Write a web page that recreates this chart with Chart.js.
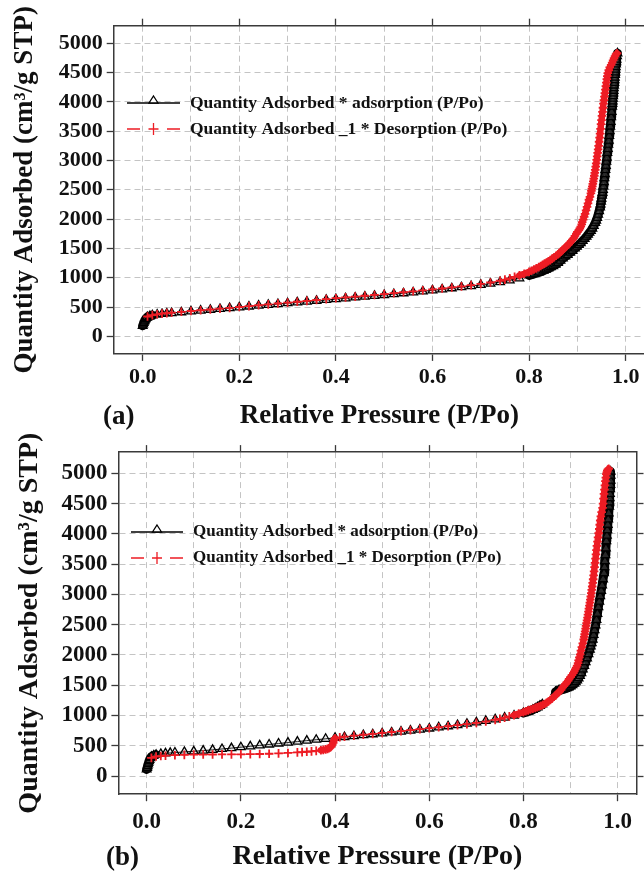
<!DOCTYPE html>
<html>
<head>
<meta charset="utf-8">
<title>Isotherms</title>
<script src="https://cdn.jsdelivr.net/npm/chart.js@4.4.0/dist/chart.umd.min.js"></script>
<style>
  html, body { margin: 0; padding: 0; background: #fff; width: 644px; height: 871px; overflow: hidden; }
  .panel { position: absolute; left: 0; }
</style>
</head>
<body>
<div class="panel" style="top:0"><canvas id="chartA" width="660" height="430"></canvas></div>
<div class="panel" style="top:430px"><canvas id="chartB" width="644" height="441"></canvas></div>
<script>
// labels and ticks
const seriesLabels = ['Quantity Adsorbed * adsorption (P/Po)', 'Quantity Adsorbed _1 * Desorption (P/Po)'];
const xTitle = 'Relative Pressure (P/Po)';
const yTitle = 'Quantity Adsorbed (cm³/g STP)';
const panelLabels = ['(a)', '(b)'];
const xTickValues = [0, 0.2, 0.4, 0.6, 0.8, 1.0];
const xTickLabels = ['0.0', '0.2', '0.4', '0.6', '0.8', '1.0'];
const xGridValues = [0, 0.1, 0.2, 0.3, 0.4, 0.5, 0.6, 0.7, 0.8, 0.9, 1.0];
const yTickValues = [0, 500, 1000, 1500, 2000, 2500, 3000, 3500, 4000, 4500, 5000];

// (a) [P/Po, quantity]
const adsorptionA = [
  [0,180],[0.001,205],[0.002,230],[0.003,250],[0.004,268],[0.005,285],[0.006,298],[0.008,315],[0.01,328],[0.015,345],
  [0.02,358],[0.03,372],[0.04,382],[0.05,390],[0.06,397],[0.08,411],[0.1,425],[0.12,439],[0.14,453],[0.16,467],
  [0.18,481],[0.2,495],[0.22,509],[0.24,523],[0.26,537],[0.28,551],[0.3,565],[0.32,579],[0.34,593],[0.36,607],
  [0.38,621],[0.4,635],[0.42,649],[0.44,663],[0.46,677],[0.48,691],[0.5,705],[0.52,720],[0.54,735],[0.56,751],
  [0.58,768],[0.6,785],[0.62,802],[0.64,820],[0.66,838],[0.68,857],[0.7,878],[0.72,900],[0.74,925],[0.76,953],
  [0.78,990],[0.8,1040],[0.81,1065],[0.82,1090],[0.83,1120],[0.835,1140],[0.84,1160],[0.845,1180],[0.85,1200],
  [0.855,1225],[0.86,1255],[0.865,1290],[0.87,1330],[0.875,1365],[0.88,1390],[0.885,1430],[0.89,1460],[0.895,1500],
  [0.899,1530],[0.903,1560],[0.907,1590],[0.911,1630],[0.915,1665],[0.919,1700],[0.922,1735],[0.925,1770],[0.928,1800],
  [0.931,1840],[0.934,1885],[0.937,1935],[0.939,1975],[0.941,2020],[0.943,2075],[0.945,2135],[0.947,2200],[0.948,2250],
  [0.949,2300],[0.95,2350],[0.951,2400],[0.952,2450],[0.953,2500],[0.954,2560],[0.955,2630],[0.956,2700],[0.957,2770],
  [0.958,2840],[0.959,2910],[0.96,2980],[0.961,3050],[0.962,3130],[0.963,3200],[0.964,3270],[0.965,3340],[0.966,3420],
  [0.967,3500],[0.968,3580],[0.969,3660],[0.97,3740],[0.971,3830],[0.972,3920],[0.9725,3965],[0.973,4010],[0.9735,4055],
  [0.974,4100],[0.9745,4145],[0.975,4190],[0.9755,4235],[0.976,4280],[0.9765,4325],[0.977,4370],[0.9775,4415],
  [0.978,4460],[0.9785,4505],[0.979,4550],[0.9795,4595],[0.98,4640],[0.9805,4680],[0.981,4720],[0.982,4780],[0.983,4830]
];
const desorptionA = [
  [0.982,4830],[0.98,4810],[0.978,4780],[0.976,4745],[0.974,4710],[0.972,4670],[0.97,4630],[0.967,4590],[0.965,4540],
  [0.963,4490],[0.962,4440],[0.961,4390],[0.96,4330],[0.959,4270],[0.958,4210],[0.957,4150],[0.956,4090],[0.955,4030],
  [0.954,3970],[0.953,3900],[0.952,3830],[0.951,3760],[0.95,3690],[0.949,3620],[0.948,3540],[0.947,3460],[0.946,3390],
  [0.945,3320],[0.944,3250],[0.943,3190],[0.942,3130],[0.941,3070],[0.94,3010],[0.939,2950],[0.938,2895],[0.937,2840],
  [0.936,2790],[0.935,2740],[0.934,2690],[0.933,2645],[0.932,2600],[0.931,2560],[0.93,2520],[0.929,2480],[0.928,2440],
  [0.926,2380],[0.924,2330],[0.922,2270],[0.92,2210],[0.918,2150],[0.916,2090],[0.914,2040],[0.912,1990],[0.91,1950],
  [0.909,1910],[0.907,1870],[0.905,1840],[0.903,1810],[0.9,1780],[0.898,1750],[0.895,1715],[0.893,1680],[0.89,1650],
  [0.887,1620],[0.884,1590],[0.881,1565],[0.878,1540],[0.875,1515],[0.872,1495],[0.869,1470],[0.866,1445],[0.863,1420],
  [0.86,1400],[0.856,1375],[0.852,1350],[0.848,1325],[0.844,1300],[0.84,1280],[0.836,1260],[0.832,1240],[0.828,1220],
  [0.824,1200],[0.82,1180],[0.815,1160],[0.81,1140],[0.805,1120],[0.8,1100],[0.79,1068],[0.78,1040],[0.77,1015],
  [0.76,990],[0.75,968],[0.74,948],[0.72,918],[0.7,895],[0.68,873],[0.66,853],[0.64,834],[0.62,816],[0.6,800],
  [0.58,784],[0.56,768],[0.54,752],[0.52,736],[0.5,720],[0.48,706],[0.46,692],[0.44,678],[0.42,664],[0.4,650],
  [0.38,635],[0.36,620],[0.34,605],[0.32,590],[0.3,575],[0.28,560],[0.26,545],[0.24,530],[0.22,515],[0.2,500],
  [0.18,486],[0.16,472],[0.14,458],[0.12,445],[0.1,432],[0.08,418],[0.06,404],[0.05,396],[0.04,387],[0.03,376],
  [0.02,362],[0.01,338]
];

// (b) [P/Po, quantity]
const adsorptionB = [
  [0,110],[0.001,135],[0.002,165],[0.003,195],[0.004,220],[0.005,245],[0.006,268],[0.008,298],[0.01,318],[0.015,340],
  [0.02,352],[0.03,365],[0.04,375],[0.05,382],[0.06,388],[0.08,398],[0.1,408],[0.12,420],[0.14,433],[0.16,447],
  [0.18,461],[0.2,476],[0.22,491],[0.24,506],[0.26,521],[0.28,537],[0.3,553],[0.32,569],[0.34,585],[0.36,600],
  [0.38,615],[0.4,630],[0.42,645],[0.44,660],[0.46,675],[0.48,690],[0.5,705],[0.52,720],[0.54,735],[0.56,751],
  [0.58,768],[0.6,785],[0.62,803],[0.64,822],[0.66,842],[0.68,864],[0.7,887],[0.72,911],[0.74,937],[0.76,966],
  [0.78,1000],[0.8,1040],[0.81,1065],[0.82,1095],[0.825,1115],[0.83,1135],[0.835,1160],[0.84,1185],
  [0.868,1390],[0.871,1400],[0.874,1410],[0.877,1418],[0.88,1425],[0.884,1432],[0.888,1440],[0.892,1452],[0.896,1465],
  [0.9,1480],[0.904,1500],[0.908,1525],[0.911,1550],[0.914,1580],[0.917,1615],[0.92,1655],[0.923,1700],[0.926,1760],
  [0.929,1820],[0.932,1880],[0.935,1945],[0.938,2015],[0.941,2090],[0.943,2140],[0.945,2195],[0.947,2255],[0.949,2330],
  [0.951,2410],[0.953,2490],[0.955,2580],[0.957,2680],[0.959,2790],[0.961,2880],[0.963,2970],[0.965,3060],[0.967,3150],
  [0.969,3250],[0.971,3350],[0.972,3450],[0.973,3550],[0.974,3650],[0.975,3760],[0.976,3880],[0.977,3970],[0.978,4060],
  [0.979,4150],[0.98,4240],[0.981,4340],[0.982,4450],[0.9825,4520],[0.983,4590],[0.9835,4660],[0.984,4740],[0.9845,4810],
  [0.985,4880],[0.985,4960],[0.985,5030]
];
const desorptionB = [
  [0.981,5075],[0.979,5060],[0.978,5040],[0.977,5015],[0.976,4985],[0.975,4930],[0.974,4870],[0.973,4800],[0.972,4730],
  [0.971,4660],[0.97,4580],[0.969,4500],[0.968,4430],[0.966,4360],[0.9643,4290],[0.963,4220],[0.962,4150],[0.961,4080],
  [0.9597,4010],[0.9584,3940],[0.9572,3870],[0.956,3800],[0.955,3730],[0.954,3660],[0.953,3590],[0.952,3520],[0.951,3450],
  [0.95,3380],[0.949,3315],[0.948,3250],[0.947,3190],[0.946,3130],[0.945,3075],[0.944,3020],[0.943,2965],[0.942,2915],
  [0.941,2865],[0.94,2815],[0.939,2765],[0.938,2715],[0.937,2665],[0.936,2615],[0.935,2570],[0.934,2525],[0.933,2480],
  [0.932,2435],[0.931,2390],[0.93,2345],[0.929,2300],[0.928,2255],[0.926,2190],[0.924,2130],[0.922,2070],[0.9205,2010],
  [0.9187,1960],[0.917,1910],[0.916,1865],[0.914,1825],[0.912,1790],[0.91,1760],[0.908,1730],[0.906,1700],[0.903,1665],
  [0.9,1635],[0.897,1605],[0.895,1575],[0.892,1545],[0.889,1515],[0.886,1490],[0.883,1465],[0.88,1422],[0.877,1400],
  [0.874,1378],[0.871,1355],[0.868,1332],[0.865,1310],[0.861,1280],[0.857,1255],[0.853,1232],[0.849,1210],[0.845,1190],
  [0.841,1175],[0.837,1160],[0.833,1148],[0.829,1136],[0.825,1125],[0.82,1112],[0.815,1098],[0.81,1084],[0.805,1070],
  [0.8,1055],[0.79,1030],[0.78,1005],[0.77,985],[0.76,965],[0.75,945],[0.74,928],[0.72,900],[0.7,878],[0.68,858],
  [0.66,840],[0.64,822],[0.62,806],[0.6,790],[0.58,774],[0.56,758],[0.54,742],[0.52,727],[0.5,712],[0.48,697],
  [0.46,682],[0.44,666],[0.42,650],[0.41,640],[0.4,625],[0.398,590],[0.396,550],[0.394,515],[0.392,490],[0.39,472],
  [0.387,458],[0.384,448],[0.38,440],[0.375,432],[0.37,425],[0.36,416],[0.35,408],[0.34,401],[0.33,395],[0.32,390],
  [0.3,381],[0.28,374],[0.26,368],[0.24,364],[0.22,361],[0.2,359],[0.18,358],[0.16,357],[0.14,356],[0.12,355],
  [0.1,353],[0.08,350],[0.06,344],[0.04,336],[0.03,330],[0.02,322],[0.01,300]
];

const serif = '"Liberation Serif", "Times New Roman", serif';
const frameColor = '#3a3a3a';
const textColor = '#111';
const blackColor = '#000';
const redColor = '#ed1c24';

const toPoints = rows => rows.map(r => ({ x: r[0], y: r[1] }));

// near saturation the measured points overlap into a solid band
const crowded = c => {
  const d = Math.hypot(c.p1.x - c.p0.x, c.p1.y - c.p0.y);
  return (d < 7.5 && c.p0.parsed.x > 0.78) || d < 3;
};

// legend drawn inside the plot frame
const insideLegend = {
  id: 'insideLegend',
  afterDraw(chart, args, o) {
    const c = chart.ctx;
    c.save();
    c.font = 'bold ' + o.size + 'px ' + serif;
    c.textBaseline = 'middle';
    chart.data.datasets.forEach((ds, i) => {
      const y = o.rows[i];
      const x0 = o.x, x1 = o.x + o.len, xm = (x0 + x1) / 2;
      c.strokeStyle = ds.borderColor;
      c.lineWidth = 1.3;
      c.setLineDash([]);
      c.beginPath();
      if (ds.pointStyle === 'cross') {
        c.moveTo(x0, y); c.lineTo(x0 + 13, y);
        c.moveTo(x1 - 13, y); c.lineTo(x1, y);
        c.moveTo(xm - 5, y); c.lineTo(xm + 5, y);
        c.moveTo(xm, y - 6); c.lineTo(xm, y + 6);
        c.stroke();
      } else {
        c.moveTo(x0, y); c.lineTo(x1, y);
        c.stroke();
        c.beginPath();
        c.moveTo(xm, y - 7); c.lineTo(xm + 4.5, y); c.lineTo(xm - 4.5, y); c.closePath();
        c.fillStyle = '#fff'; c.fill(); c.stroke();
      }
      c.fillStyle = textColor;
      c.fillText(ds.label, o.textX, y);
    });
    c.restore();
  }
};

const panelTag = {
  id: 'panelTag',
  afterDraw(chart, args, o) {
    const c = chart.ctx;
    c.save();
    c.font = 'bold ' + o.size + 'px ' + serif;
    c.fillStyle = textColor;
    c.textBaseline = 'middle';
    c.fillText(o.text, o.x, o.y);
    c.restore();
  }
};

function fixSize(v) {
  return s => { if (s.isHorizontal()) s.height = v; else s.width = v; };
}
function setTicks(vals) {
  return s => { s.ticks = vals.map(v => ({ value: v })); };
}

function makeChart(id, p) {
  const ctx = document.getElementById(id).getContext('2d');
  const tickFont = { family: serif, size: p.tickSize, weight: 'bold', lineHeight: 1 };
  const titleFont = { family: serif, size: p.titleSize, weight: 'bold', lineHeight: 1 };
  const outerAxis = (pos, vals, sz, min, max) => ({
    type: 'linear', position: pos, min: min, max: max,
    afterBuildTicks: setTicks(vals),
    afterFit: fixSize(sz),
    ticks: { display: false },
    grid: { drawOnChartArea: false, tickLength: 7, color: frameColor, tickWidth: 1.3 },
    border: { display: true, color: frameColor, width: 1.5 }
  });

  return new Chart(ctx, {
    type: 'scatter',
    data: {
      datasets: [{
        label: seriesLabels[0],
        data: toPoints(p.ads),
        showLine: true,
        borderColor: blackColor,
        borderWidth: 1,
        borderCapStyle: 'round',
        borderJoinStyle: 'round',
        segment: { borderWidth: c => crowded(c) ? 9 : 1 },
        pointStyle: 'triangle',
        pointRadius: 5,
        pointBorderWidth: 1.3,
        pointBorderColor: blackColor,
        pointBackgroundColor: 'rgba(160,160,160,0.25)',
        order: 2
      }, {
        label: seriesLabels[1],
        data: toPoints(p.des),
        showLine: true,
        borderColor: redColor,
        borderWidth: 1,
        borderDash: [7, 5],
        borderJoinStyle: 'round',
        segment: {
          borderWidth: c => crowded(c) ? 6.5 : 1,
          borderDash: c => crowded(c) ? [] : [7, 5],
          borderCapStyle: c => crowded(c) ? 'round' : 'butt'
        },
        pointStyle: 'cross',
        pointRadius: 4.3,
        pointBorderWidth: 1.8,
        pointBorderColor: redColor,
        order: 1
      }]
    },
    options: {
      responsive: false,
      animation: false,
      devicePixelRatio: 1,
      layout: { padding: 0 },
      plugins: {
        legend: { display: false },
        tooltip: { enabled: false },
        insideLegend: p.legend,
        panelTag: p.tag
      },
      scales: {
        x: {
          type: 'linear', position: 'bottom', min: -0.06, max: 1.04,
          afterBuildTicks: setTicks(xGridValues),
          afterFit: fixSize(p.bottom),
          ticks: {
            autoSkip: false, maxRotation: 0, padding: p.xPad, color: textColor, font: tickFont,
            callback: v => { const i = xTickValues.indexOf(v); return i >= 0 ? xTickLabels[i] : ''; }
          },
          grid: {
            color: '#c4c4c4', lineWidth: 1, tickLength: 7, tickWidth: 1.3, tickBorderDash: [],
            tickColor: c => (c.tick && xTickValues.includes(c.tick.value)) ? frameColor : 'rgba(0,0,0,0)'
          },
          border: { display: true, color: frameColor, width: 1.5, dash: [6, 4] },
          title: { display: true, text: xTitle, color: textColor, font: titleFont, padding: { top: 0, bottom: 0 } }
        },
        y: {
          type: 'linear', position: 'left', min: -300, max: p.yMax,
          afterBuildTicks: setTicks(yTickValues),
          afterFit: fixSize(p.left),
          ticks: { padding: 4, color: textColor, font: tickFont, callback: v => String(v) },
          grid: { color: '#c4c4c4', lineWidth: 1, tickLength: 7, tickWidth: 1.3, tickColor: frameColor, tickBorderDash: [] },
          border: { display: true, color: frameColor, width: 1.5, dash: [6, 4] },
          title: { display: true, text: yTitle, color: textColor, font: titleFont, padding: { top: p.yTitlePad, bottom: 0 } }
        },
        xTop: outerAxis('top', xTickValues, p.top, -0.06, 1.04),
        yRight: outerAxis('right', yTickValues, p.right, -300, p.yMax)
      }
    },
    plugins: [insideLegend, panelTag]
  });
}

makeChart('chartA', {
  ads: adsorptionA, des: desorptionA,
  left: 113.7, top: 25.7, bottom: 76.1, right: 15, yMax: 5300,
  tickSize: 22, titleSize: 27, yTitlePad: 11.5, xPad: 5,
  legend: { x: 127, len: 53, textX: 190, rows: [103, 129], size: 17.5 },
  tag: { text: panelLabels[0], x: 103, y: 417, size: 27 }
});

makeChart('chartB', {
  ads: adsorptionB, des: desorptionB,
  left: 118.4, top: 22.1, bottom: 76.8, right: 7.5, yMax: 5350,
  tickSize: 23, titleSize: 28, yTitlePad: 16, xPad: 9,
  legend: { x: 131, len: 52, textX: 193, rows: [102, 128], size: 17 },
  tag: { text: panelLabels[1], x: 106, y: 428, size: 27 }
});
</script>
</body>
</html>
